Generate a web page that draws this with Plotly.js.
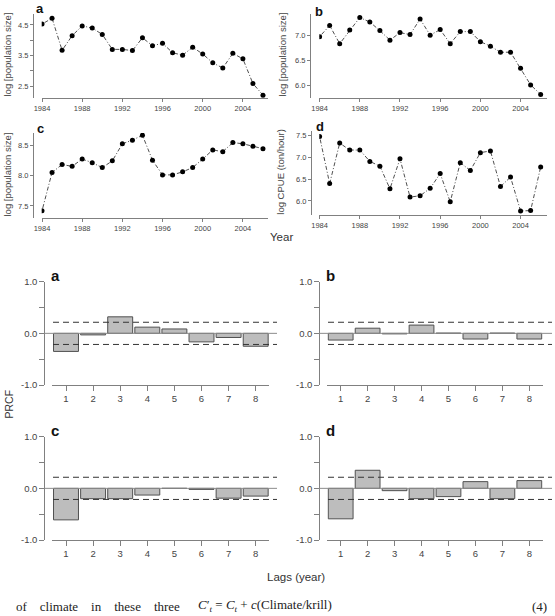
<!DOCTYPE html>
<html>
<head>
<meta charset="utf-8">
<script src="https://cdn.plot.ly/plotly-3.0.1.min.js"></script>
<style>html,body{margin:0;padding:0;background:#fff;}#chart{width:555px;height:616px;}</style>
</head>
<body>
<div id="chart"></div>
<script>
// ---------- DATA ----------
const years = [1984,1985,1986,1987,1988,1989,1990,1991,1992,1993,1994,1995,1996,1997,1998,1999,2000,2001,2002,2003,2004,2005,2006];
const popA  = [4.53,4.72,3.67,4.15,4.47,4.40,4.19,3.70,3.70,3.66,4.08,3.82,3.90,3.59,3.51,3.77,3.55,3.26,3.09,3.57,3.39,2.58,2.20];
const popB  = [6.97,7.19,6.83,7.10,7.35,7.26,7.09,6.90,7.05,7.01,7.32,7.00,7.11,6.83,7.07,7.07,6.87,6.78,6.66,6.66,6.34,6.01,5.82];
const popC  = [7.42,8.05,8.18,8.15,8.27,8.21,8.13,8.24,8.52,8.58,8.66,8.25,8.01,8.01,8.06,8.13,8.27,8.42,8.39,8.54,8.52,8.48,8.44];
const cpueD = [7.48,6.40,7.33,7.17,7.17,6.91,6.80,6.28,6.97,6.09,6.12,6.29,6.63,5.98,6.88,6.70,7.11,7.15,6.33,6.55,5.77,5.78,6.78];
const yearTicks = [1984,1988,1992,1996,2000,2004];

const lags  = [1,2,3,4,5,6,7,8];
const prcfA = [-0.35,-0.03,0.32,0.12,0.085,-0.165,-0.08,-0.25];
const prcfB = [-0.13,0.10,-0.01,0.16,0.004,-0.11,0.004,-0.11];
const prcfC = [-0.61,-0.20,-0.20,-0.13,0.0,-0.02,-0.19,-0.15];
const prcfD = [-0.59,0.35,-0.045,-0.20,-0.16,0.13,-0.20,0.15];
const ciBound = [0.215,-0.215];
const prcfTickVals = [-1,-0.5,0,0.5,1];
const prcfTickText = ['-1.0','','0.0','','1.0'];

// ---------- LAYOUT HELPERS ----------
const W = 555, H = 616;
const px = v => v / W;
const py = v => 1 - v / H;
const FONT = 'Liberation Sans, Arial, sans-serif';
const AX = '#808080';

function lineTrace(y, xa, ya) {
  return {x: years, y: y, xaxis: xa, yaxis: ya, type: 'scatter', mode: 'lines+markers',
    line: {color: '#222', width: 0.8, dash: '1px,2px,4px,2px'},
    marker: {color: '#000', size: 5}, hoverinfo: 'skip'};
}
function barTrace(y, xa, ya) {
  return {x: lags, y: y, xaxis: xa, yaxis: ya, type: 'bar', width: 0.92,
    marker: {color: '#bdbdbd', line: {color: '#505050', width: 1}}, hoverinfo: 'skip'};
}

const data = [
  lineTrace(popA, 'x', 'y'),
  lineTrace(popB, 'x2', 'y2'),
  lineTrace(popC, 'x3', 'y3'),
  lineTrace(cpueD, 'x4', 'y4'),
  barTrace(prcfA, 'x5', 'y5'),
  barTrace(prcfB, 'x6', 'y6'),
  barTrace(prcfC, 'x7', 'y7'),
  barTrace(prcfD, 'x8', 'y8')
];

function topX(dom, range, anchor) {
  return {domain: dom, range: range, anchor: anchor, showline: true, linecolor: AX, linewidth: 1,
    ticks: 'outside', ticklen: 3, tickcolor: AX, tickvals: yearTicks,
    tickfont: {family: FONT, size: 7.5, color: '#444'}, showgrid: false, zeroline: false, fixedrange: true};
}
function topY(dom, range, pos, tv, tt) {
  return {domain: dom, range: range, anchor: 'free', position: pos, showline: true, linecolor: AX, linewidth: 1,
    ticks: 'outside', ticklen: 3, tickcolor: AX, tickvals: tv, ticktext: tt,
    tickfont: {family: FONT, size: 7.5, color: '#444'}, showgrid: false, zeroline: false, fixedrange: true};
}
function barX(dom, anchor) {
  return {domain: dom, range: [0.5, 8.5], anchor: anchor, showline: true, linecolor: AX, linewidth: 1,
    ticks: 'outside', ticklen: 5, tickcolor: AX, tickvals: lags,
    tickfont: {family: FONT, size: 9.5, color: '#444'}, showgrid: false, zeroline: false, fixedrange: true};
}
function barY(dom, pos) {
  return {domain: dom, range: [-1, 1], anchor: 'free', position: pos, showline: true, linecolor: AX, linewidth: 1,
    ticks: 'outside', ticklen: 5, tickcolor: AX, tickvals: prcfTickVals, ticktext: prcfTickText,
    tickfont: {family: FONT, size: 9.5, color: '#444'}, showgrid: false, zeroline: false, fixedrange: true};
}

const xA = [px(41.7), px(268)], xB = [px(319.3), px(547)];
const yTop = [py(98), py(14)];
const xBarL = [px(52.45), px(269.25)], xBarR = [px(327.2), px(542.8)];

const layout = {
  width: W, height: H, margin: {l: 0, r: 0, t: 0, b: 0},
  paper_bgcolor: '#fff', plot_bgcolor: 'rgba(0,0,0,0)', showlegend: false,
  bargap: 0,
  xaxis:  topX(xA, [1983.97, 2006.5], 'y'),
  yaxis:  topY(yTop, [2.107, 4.86], px(33), [2.5,3,3.5,4,4.5], ['2.5','','3.5','','4.5']),
  xaxis2: topX(xB, [1983.97, 2006.63], 'y2'),
  yaxis2: topY(yTop, [5.75, 7.42], px(310), [6,6.5,7], ['6.0','6.5','7.0']),
  xaxis3: topX(xA, [1983.97, 2006.5], 'y3'),
  yaxis3: topY([py(217.7), py(133)], [7.308, 8.697], px(33), [7.5,8,8.5], ['7.5','8.0','8.5']),
  xaxis4: topX(xB, [1983.97, 2006.63], 'y4'),
  yaxis4: topY([py(215), py(131)], [5.678, 7.608], px(311), [6,6.5,7,7.5], ['6.0','6.5','7.0','7.5']),
  xaxis5: barX(xBarL, 'y5'),
  yaxis5: barY([py(385), py(281.7)], px(44.3)),
  xaxis6: barX(xBarR, 'y6'),
  yaxis6: barY([py(385), py(281.7)], px(319.3)),
  xaxis7: barX(xBarL, 'y7'),
  yaxis7: barY([py(540), py(436.7)], px(44.3)),
  xaxis8: barX(xBarR, 'y8'),
  yaxis8: barY([py(540), py(436.7)], px(319.3)),
  shapes: [],
  annotations: []
};

// reference lines of the PRCF panels
[['y5', 44.3, 53, 277], ['y6', 319.3, 328, 552], ['y7', 44.3, 53, 277], ['y8', 319.3, 328, 552]].forEach(([ya, xz, xd, xe]) => {
  layout.shapes.push({type: 'line', xref: 'paper', yref: ya, x0: px(xz), x1: px(xe), y0: 0, y1: 0,
    line: {color: '#8c8c8c', width: 1}});
  ciBound.forEach(b => layout.shapes.push({type: 'line', xref: 'paper', yref: ya, x0: px(xd), x1: px(xe), y0: b, y1: b,
    line: {color: '#333', width: 1, dash: '6px,4px'}}));
});

function ann(text, x, y, opts) {
  layout.annotations.push(Object.assign({text: text, xref: 'paper', yref: 'paper', x: x, y: y,
    showarrow: false, font: {family: FONT, size: 12, color: '#222'}}, opts));
}
// panel letters
[['a', 33.5, 17.8, 13], ['b', 312.8, 21, 13], ['c', 35.2, 137.8, 13], ['d', 313.5, 135.5, 13],
 ['a', 48.5, 285.9, 15], ['b', 323.5, 285.9, 15], ['c', 48.5, 440.9, 15], ['d', 323.5, 440.9, 15]].forEach(([t, x, y, s]) => {
  ann('<b>' + t + '</b>', px(x), py(y), {xanchor: 'left', yanchor: 'bottom', font: {family: FONT, size: s, color: '#111'}});
});
// axis titles
const titleFont = {family: FONT, size: 9.5, color: '#444'};
ann('log [population size]', px(6.5), py(55), {xanchor: 'center', yanchor: 'middle', textangle: -90, font: titleFont});
ann('log [population size]', px(281.5), py(55), {xanchor: 'center', yanchor: 'middle', textangle: -90, font: titleFont});
ann('log [population size]', px(6.5), py(175), {xanchor: 'center', yanchor: 'middle', textangle: -90, font: titleFont});
ann('log CPUE (ton/hour)', px(281), py(171.7), {xanchor: 'center', yanchor: 'middle', textangle: -90, font: titleFont});
ann('Year', px(281), py(237), {xanchor: 'center', yanchor: 'middle', font: {family: FONT, size: 11.5, color: '#333'}});
ann('PRCF', px(8.5), py(404), {xanchor: 'center', yanchor: 'middle', textangle: -90, font: {family: FONT, size: 10.5, color: '#333'}});
ann('Lags (year)', px(296), py(577), {xanchor: 'center', yanchor: 'middle', font: {family: FONT, size: 11.5, color: '#333'}});
// page text below the figure
const serif = {family: 'Liberation Serif, Times New Roman, serif', size: 13, color: '#222'};
const sp = '\u00A0\u00A0\u00A0\u00A0';
ann('of' + sp + 'climate' + sp + 'in' + sp + 'these' + sp + 'three', px(14), py(616), {xanchor: 'left', yanchor: 'bottom', font: serif});
ann('<i>C</i>\u2032<sub><i>t</i></sub> = <i>C</i><sub><i>t</i></sub> + <i>c</i>(Climate/krill)', px(196), py(616), {xanchor: 'left', yanchor: 'bottom', font: serif});
ann('(4)', px(549), py(616), {xanchor: 'right', yanchor: 'bottom', font: serif});

Plotly.newPlot('chart', data, layout, {staticPlot: true, displayModeBar: false});
</script>
</body>
</html>
